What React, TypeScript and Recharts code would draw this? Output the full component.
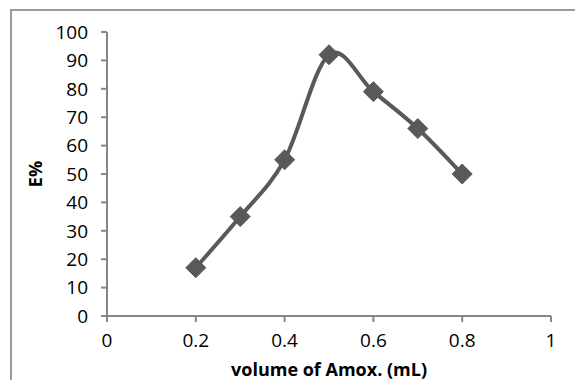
import { LineChart, Line, XAxis, YAxis } from "recharts"

const volumes = [0.2, 0.3, 0.4, 0.5, 0.6, 0.7, 0.8]
const efficiency = [17, 35, 55, 92, 79, 66, 50]
const xTicks = [0, 0.2, 0.4, 0.6, 0.8, 1]
const yTicks = [0, 10, 20, 30, 40, 50, 60, 70, 80, 90, 100]

const data = volumes.map((v, i) => ({ x: v, y: efficiency[i] }))

const LINE = "#595959"
const AXIS = "#868686"
const FONT = "'Open Sans', sans-serif"

// excel-ish smoothing (catmull-rom through the points)
const excelSmooth = (context: any) => {
    let pts: [number, number][] = []
    return {
        areaStart() {},
        areaEnd() {},
        lineStart() {
            pts = []
        },
        point(x: number, y: number) {
            pts.push([+x, +y])
        },
        lineEnd() {
            if (!pts.length) return
            context.moveTo(pts[0][0], pts[0][1])
            for (let i = 0; i < pts.length - 1; i++) {
                const p0 = pts[Math.max(i - 1, 0)]
                const p1 = pts[i]
                const p2 = pts[i + 1]
                const p3 = pts[Math.min(i + 2, pts.length - 1)]
                context.bezierCurveTo(
                    p1[0] + (p2[0] - p0[0]) / 6,
                    p1[1] + (p2[1] - p0[1]) / 6,
                    p2[0] - (p3[0] - p1[0]) / 6,
                    p2[1] - (p3[1] - p1[1]) / 6,
                    p2[0],
                    p2[1]
                )
            }
        },
    }
}

const Diamond = (props: any) => {
    const { cx, cy } = props
    if (cx == null || cy == null) return null
    const r = 10
    return (
        <polygon
            points={`${cx},${cy - r} ${cx + r},${cy} ${cx},${cy + r} ${cx - r},${cy}`}
            fill={LINE}
            stroke={LINE}
            strokeWidth={1}
            strokeLinejoin="round"
        />
    )
}

export default function App() {
    return (
        <div
            style={{
                position: "absolute",
                top: 0,
                left: 0,
                width: 575,
                height: 380,
                overflow: "hidden",
                background: "#fff",
            }}
        >
            <div
                style={{
                    position: "absolute",
                    left: 10,
                    top: 9,
                    width: 700,
                    height: 500,
                    border: "2px solid #9a9a9a",
                }}
            />
            <div style={{ position: "absolute", top: 0, left: 0 }}>
                <LineChart
                    width={575}
                    height={380}
                    data={data}
                    margin={{ top: 32, right: 24, left: 0, bottom: 0 }}
                >
                    <XAxis
                        dataKey="x"
                        type="number"
                        domain={[0, 1]}
                        ticks={xTicks}
                        height={64}
                        stroke={AXIS}
                        strokeWidth={2}
                        tickSize={6}
                        tickMargin={12}
                        tick={{ fill: "#000", fontSize: 19, fontFamily: FONT }}
                        label={{
                            value: "volume of Amox. (mL)",
                            position: "center",
                            dy: 22,
                            fill: "#000",
                            fontSize: 18,
                            fontWeight: "bold",
                            fontFamily: FONT,
                        }}
                    />
                    <YAxis
                        type="number"
                        domain={[0, 100]}
                        ticks={yTicks}
                        width={107}
                        stroke={AXIS}
                        strokeWidth={2}
                        tickSize={6}
                        tickMargin={13}
                        tick={{ fill: "#000", fontSize: 19, fontFamily: FONT }}
                        label={{
                            value: "E%",
                            angle: -90,
                            position: "center",
                            dx: -18,
                            fill: "#000",
                            fontSize: 18,
                            fontWeight: "bold",
                            fontFamily: FONT,
                        }}
                    />
                    <Line
                        dataKey="y"
                        type={excelSmooth as any}
                        stroke={LINE}
                        strokeWidth={4}
                        dot={<Diamond />}
                        activeDot={false}
                        isAnimationActive={false}
                    />
                </LineChart>
            </div>
        </div>
    )
}
